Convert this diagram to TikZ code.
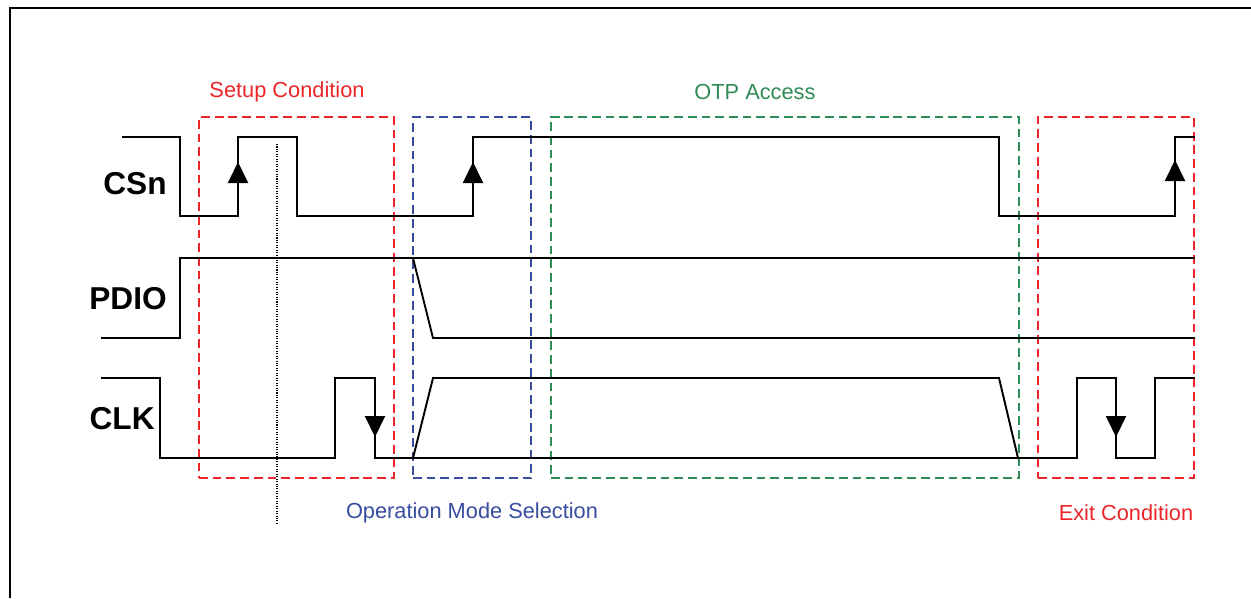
\documentclass[tikz,border=0pt]{standalone}
\usepackage{fontspec}
\setmainfont{Liberation Sans}
\usetikzlibrary{arrows.meta}
\definecolor{setupred}{RGB}{236,38,40}
\definecolor{modeblue}{RGB}{56,76,160}
\definecolor{otpgreen}{RGB}{46,140,84}
\begin{document}
\begin{tikzpicture}
 [
 x=0.2mm, y=-0.2mm,
 sigline/.style={draw=black, line width=1.1pt},
 edgearrow/.style={draw=black, line width=1.1pt, -{Triangle[length=4.2mm, width=4mm]}},
 signame/.style={anchor=east, inner sep=0pt, font=\fontsize{18}{20}\selectfont\bfseries},
 boxlabel/.style={inner sep=0pt, font=\fontsize{12.4}{14}\selectfont},
 redbox/.style={rectangle, draw=setupred, line width=1.3pt, dash pattern=on 5pt off 2.8pt, minimum height=7.22cm, inner sep=0pt},
 bluebox/.style={rectangle, draw=modeblue, line width=1.3pt, dash pattern=on 5pt off 2.8pt, minimum height=7.22cm, inner sep=0pt},
 greenbox/.style={rectangle, draw=otpgreen, line width=1.3pt, dash pattern=on 5pt off 2.8pt, minimum height=7.22cm, inner sep=0pt}
 ]
 \useasboundingbox (0,0) rectangle (1251,598);
 \draw[line width=1.2pt] (10,598) -- (10,8) -- (1251,8);
 % phase boxes
 \node at (296.5,297.5) [redbox, minimum width=3.9cm]    (setup) {};
 \node at (472,297.5)   [bluebox, minimum width=2.36cm]  (mode)  {};
 \node at (785,297.5)   [greenbox, minimum width=9.36cm] (otp)   {};
 \node at (1116,297.5)  [redbox, minimum width=3.12cm]   (exit)  {};
 \node at (287,92)   [boxlabel, text=setupred] (setuplbl) {Setup Condition};
 \node at (755,92)   [boxlabel, text=otpgreen] (otplbl)   {OTP Access};
 \node at (472,513)  [boxlabel, text=modeblue] (modelbl)  {Operation Mode Selection};
 \node at (1126,513) [boxlabel, text=setupred] (exitlbl)  {Exit Condition};
 % signal names
 \node at (167,184) [signame] (csnlbl)  {CSn};
 \node at (167,299) [signame] (pdiolbl) {PDIO};
 \node at (155,419) [signame] (clklbl)  {CLK};
 % CSn
 \draw[sigline] (122,137) -| (180,216) -| (238,137) -| (297,216) -| (473,137) -| (999,216) -| (1175,137) -- (1195,137);
 \draw[edgearrow] (238,216) -- (238,162);
 \draw[edgearrow] (473,216) -- (473,162);
 \draw[edgearrow] (1175,216) -- (1175,160);
 % PDIO
 \draw[sigline] (101,338) -| (180,258) -- (1195,258);
 \draw[sigline] (413,258) -- (433,338) -- (1195,338);
 % CLK
 \draw[sigline] (101,378) -| (160,458) -| (335,378) -| (375,458) -- (1077,458) |- (1116,378) |- (1155,458) |- (1195,378);
 \draw[sigline] (413,458) -- (433,378) -- (999,378) -- (1018,458);
 \draw[edgearrow] (375,378) -- (375,437);
 \draw[edgearrow] (1116,378) -- (1116,437);
 % sample point
 \draw[line width=0.6pt, dash pattern=on 0.6pt off 0.8pt] (277,144) -- (277,523);
\end{tikzpicture}
\end{document}
